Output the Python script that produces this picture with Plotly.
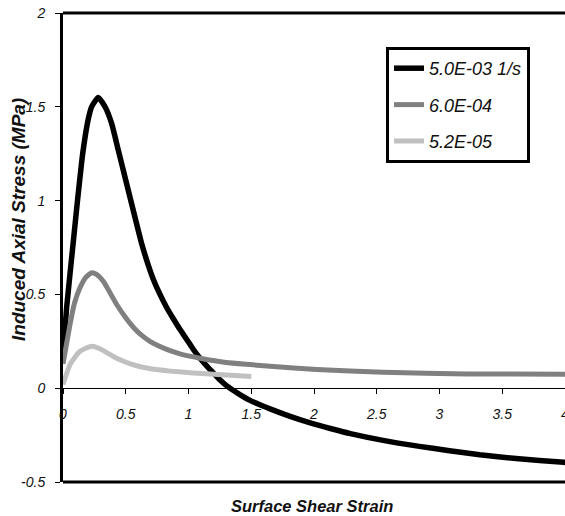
import plotly.graph_objects as go

# ---- data ----
x_high = [0.0, 0.029, 0.082, 0.114, 0.157, 0.20, 0.228, 0.281, 0.335, 0.388, 0.44, 0.507, 0.574,
          0.627, 0.68, 0.72, 0.773, 0.826, 0.879, 0.93, 0.986, 1.04, 1.092, 1.15, 1.20, 1.25, 1.30,
          1.40, 1.49, 1.65, 1.81, 1.97, 2.13, 2.29, 2.55, 2.84, 3.08, 3.32, 3.61, 3.99, 4.05]
y_high = [0.18, 0.43, 0.78, 0.99, 1.25, 1.43, 1.50, 1.55, 1.50, 1.41, 1.27, 1.09, 0.91,
          0.77, 0.655, 0.58, 0.50, 0.43, 0.37, 0.315, 0.26, 0.205, 0.16, 0.115, 0.08, 0.045, 0.015,
          -0.03, -0.065, -0.11, -0.15, -0.185, -0.215, -0.242, -0.278, -0.31, -0.333, -0.355,
          -0.375, -0.395, -0.397]

x_mid = [0.0, 0.056, 0.09, 0.135, 0.18, 0.229, 0.27, 0.321, 0.428, 0.50, 0.56, 0.63, 0.693,
         0.773, 0.853, 0.932, 1.092, 1.30, 1.49, 1.65, 2.02, 2.55, 3.22, 3.98, 4.05]
y_mid = [0.13, 0.34, 0.45, 0.535, 0.59, 0.615, 0.605, 0.57, 0.446, 0.375, 0.325, 0.28, 0.25,
         0.222, 0.20, 0.183, 0.16, 0.137, 0.126, 0.117, 0.10, 0.085, 0.076, 0.075, 0.075]

x_low = [0.0, 0.056, 0.135, 0.229, 0.29, 0.348, 0.42, 0.507, 0.58, 0.667, 0.76, 0.853, 1.04,
         1.30, 1.50]
y_low = [0.02, 0.126, 0.197, 0.224, 0.212, 0.19, 0.162, 0.137, 0.121, 0.108, 0.098, 0.091, 0.081,
         0.07, 0.062]

series_names = ["5.0E-03 1/s", "6.0E-04", "5.2E-05"]
series_colors = ["#000000", "#808080", "#c0c0c0"]

y_tick_vals = [-0.5, 0, 0.5, 1, 1.5, 2]
y_tick_text = ["-0.5", "0", "0.5", "1", "1.5", "2"]
x_tick_vals = [0, 0.5, 1, 1.5, 2, 2.5, 3, 3.5, 4]
x_tick_text = ["0", "0.5", "1", "1.5", "2", "2.5", "3", "3.5", "4"]

FONT = "Liberation Sans, Arial, sans-serif"

fig = go.Figure()
for i, (xs, ys) in enumerate([(x_high, y_high), (x_mid, y_mid), (x_low, y_low)]):
    fig.add_trace(go.Scatter(
        x=xs, y=ys, mode="lines", name=series_names[i],
        line=dict(color=series_colors[i], width=5.5 if i == 0 else 5, shape="spline", smoothing=0.5),
        legendgroup=f"g{i}",
    ))

fig.update_layout(
    width=565, height=516,
    margin=dict(l=63, r=0, t=13, b=34),
    paper_bgcolor="white", plot_bgcolor="white",
    font=dict(family=FONT, color="#111111"),
    showlegend=True,
    legend=dict(
        x=(386 - 63) / 502, y=(482 - 47) / 469, xanchor="left", yanchor="top",
        bordercolor="black", borderwidth=3, bgcolor="white",
        font=dict(size=18, family=FONT, style="italic", color="#111111"),
        tracegroupgap=10, traceorder="grouped",
        entrywidth=88, entrywidthmode="pixels",
    ),
    xaxis=dict(
        range=[0, 4.0], anchor="free", position=0.2,
        showline=True, linecolor="black", linewidth=1,
        ticks="outside", ticklen=5, tickcolor="black", tickwidth=1,
        tickvals=x_tick_vals, ticktext=x_tick_text,
        tickfont=dict(size=14, style="italic", family=FONT, color="#111111"),
        ticklabelstandoff=8, ticklabeloverflow="allow",
        showgrid=False, zeroline=False, automargin=False,
    ),
    yaxis=dict(
        range=[-0.5, 2], showline=True, linecolor="black", linewidth=3,
        ticks="outside", ticklen=5, tickcolor="black", tickwidth=1,
        tickvals=y_tick_vals, ticktext=y_tick_text,
        tickfont=dict(size=14, style="italic", family=FONT, color="#111111"),
        ticklabelstandoff=7, ticklabeloverflow="allow",
        showgrid=False, zeroline=False, automargin=False,
    ),
    shapes=[
        dict(type="line", xref="paper", yref="paper", x0=0, x1=1.02, y0=1, y1=1,
             line=dict(color="black", width=3)),
        dict(type="line", xref="paper", yref="paper", x0=0, x1=1.02, y0=0, y1=0,
             line=dict(color="black", width=3)),
    ],
    annotations=[
        dict(text="<b><i>Surface Shear Strain</i></b>", xref="paper", yref="paper",
             x=(312 - 63) / 502, y=(482 - 506) / 469, showarrow=False,
             xanchor="center", yanchor="middle", font=dict(size=16.5, family=FONT, color="#111111")),
        dict(text="<b><i>Induced Axial Stress (MPa)</i></b>", xref="paper", yref="paper",
             x=(18 - 63) / 502, y=(482 - 220) / 469, showarrow=False, textangle=-90,
             xanchor="center", yanchor="middle", font=dict(size=19, family=FONT, color="#111111")),
    ],
)

# remove the default page margin so the 565x516 figure fills the window exactly
fig.write_html(
    "out.html",
    config={"displayModeBar": False},
    post_script="document.body.style.margin='0';document.documentElement.style.overflow='hidden';",
)
